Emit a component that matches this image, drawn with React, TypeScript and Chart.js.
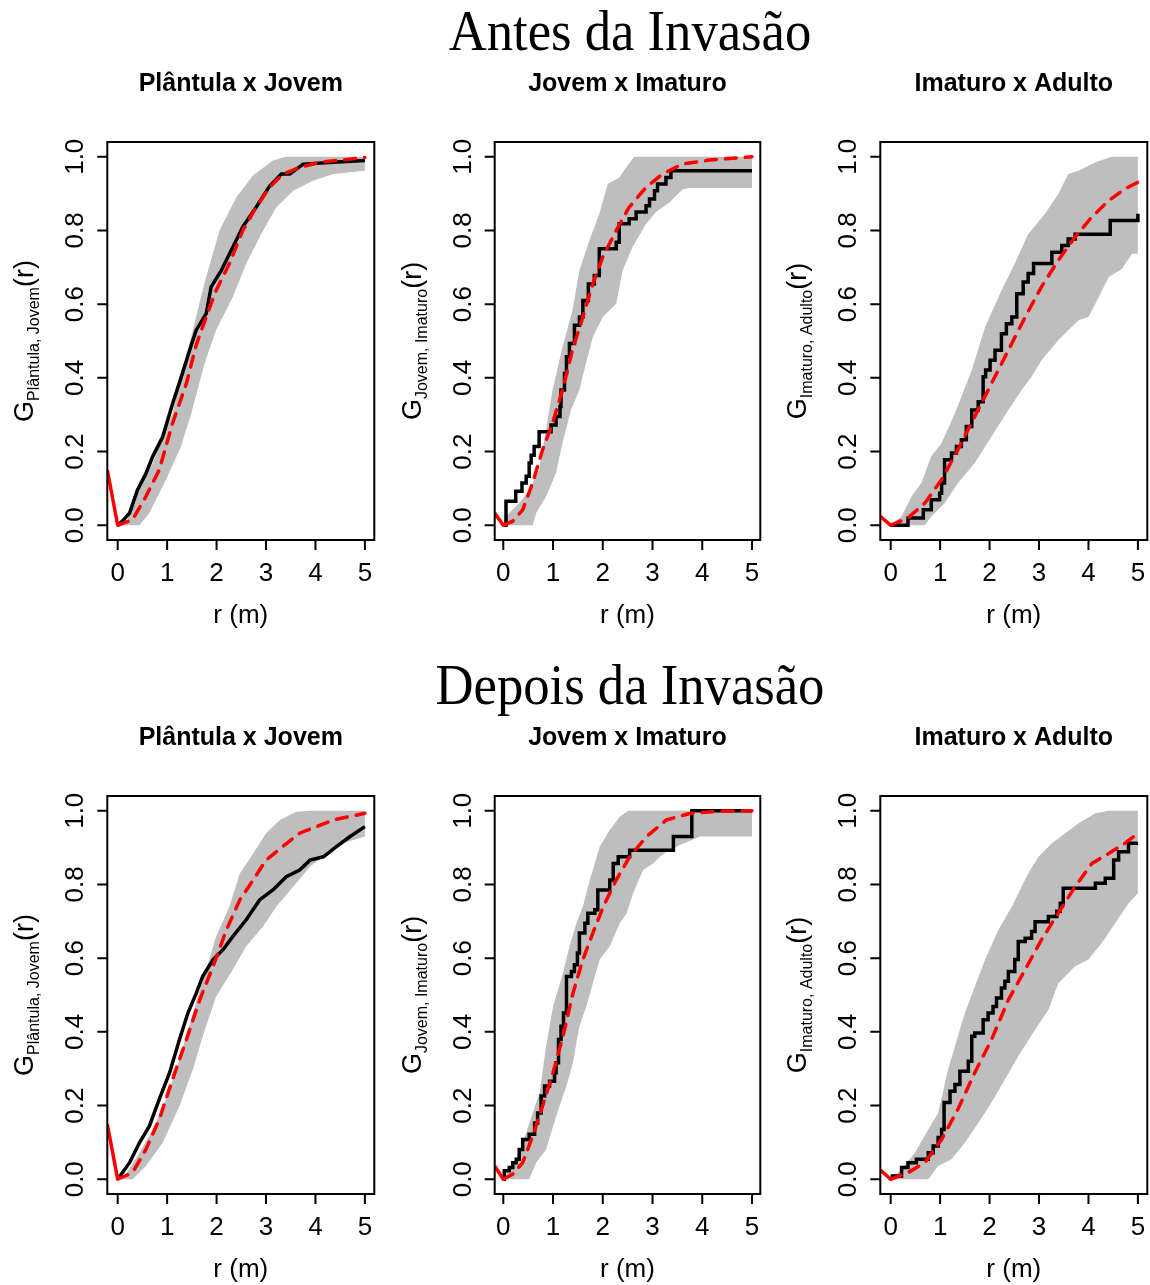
import { useEffect, useRef } from "react";
import { Chart, registerables } from "chart.js";

Chart.register(...registerables);

type P = [number, number][];

// ---------- text ----------
const rowTitles = ["Antes da Invasão", "Depois da Invasão"];
const panelTitles = ["Plântula x Jovem", "Jovem x Imaturo", "Imaturo x Adulto"];
const ySubscripts = ["Plântula, Jovem", "Jovem, Imaturo", "Imaturo, Adulto"];
const xAxisTitle = "r (m)";
const xTicks = [0, 1, 2, 3, 4, 5];
const xTickLabels = ["0", "1", "2", "3", "4", "5"];
const yTicks = [0, 0.2, 0.4, 0.6, 0.8, 1.0];
const yTickLabels = ["0.0", "0.2", "0.4", "0.6", "0.8", "1.0"];

// value of the theoretical curve at the left edge of each panel (solid red lead-in)
const leadValues = [0.15, 0.033, 0.024, 0.149, 0.036, 0.025];
const xRanges: [number, number][] = [[-0.21, 5.19], [-0.173, 5.167], [-0.21, 5.19]];

// ---------- Antes: Plântula x Jovem ----------
const antesPJ_obs: P = [[0,0],[0.1,0.012],[0.24,0.033],[0.4,0.096],[0.57,0.14],[0.71,0.187],[0.91,0.24],[1.11,0.33],[1.28,0.4],[1.49,0.49],[1.59,0.53],[1.79,0.574],[1.89,0.647],[2.09,0.69],[2.33,0.755],[2.53,0.81],[2.8,0.863],[3.07,0.92],[3.31,0.953],[3.48,0.953],[3.75,0.98],[4.36,0.985],[5,0.99]];
const antesPJ_theo: P = [[0,0],[0.3,0.015],[0.57,0.078],[0.84,0.15],[1.11,0.277],[1.39,0.385],[1.59,0.49],[1.79,0.565],[1.99,0.637],[2.26,0.71],[2.53,0.8],[2.8,0.863],[3.07,0.917],[3.34,0.953],[3.68,0.971],[4.09,0.985],[5,0.998]];
const antesPJ_hi: P = [[0,0],[0.2,0.015],[0.37,0.078],[0.71,0.169],[1.11,0.304],[1.28,0.4],[1.52,0.53],[1.76,0.66],[2.06,0.8],[2.4,0.89],[2.74,0.95],[3.14,0.99],[3.4,1.0],[5,1.0]];
const antesPJ_lo: P = [[0,0],[0.44,0],[0.64,0.033],[0.98,0.124],[1.28,0.214],[1.49,0.304],[1.76,0.44],[1.99,0.53],[2.33,0.62],[2.6,0.71],[2.94,0.8],[3.21,0.863],[3.55,0.908],[3.95,0.935],[4.36,0.953],[5,0.962]];

// ---------- Antes: Jovem x Imaturo ----------
const antesJI_obs: P = [[0,0],[0.054,0.065],[0.25,0.092],[0.375,0.115],[0.46,0.133],[0.52,0.169],[0.56,0.19],[0.62,0.214],[0.72,0.254],[0.96,0.272],[1.06,0.295],[1.14,0.322],[1.16,0.367],[1.23,0.412],[1.27,0.457],[1.33,0.493],[1.43,0.543],[1.53,0.565],[1.6,0.61],[1.71,0.655],[1.83,0.678],[1.93,0.75],[2.27,0.768],[2.33,0.818],[2.53,0.832],[2.67,0.85],[2.87,0.867],[2.94,0.885],[3.04,0.908],[3.1,0.926],[3.27,0.944],[3.37,0.962],[5,0.962]];
const antesJI_theo: P = [[0,0],[0.19,0.011],[0.39,0.042],[0.59,0.115],[0.79,0.205],[0.99,0.277],[1.19,0.367],[1.39,0.475],[1.6,0.565],[1.8,0.655],[2.0,0.728],[2.27,0.8],[2.53,0.863],[2.87,0.917],[3.2,0.953],[3.6,0.98],[4.14,0.991],[5,1.0]];
const antesJI_hi: P = [[0,0],[0.05,0.024],[0.32,0.06],[0.52,0.096],[0.72,0.15],[0.86,0.259],[0.99,0.367],[1.19,0.484],[1.39,0.583],[1.53,0.692],[1.73,0.773],[1.93,0.845],[2.1,0.926],[2.33,0.944],[2.47,0.971],[2.63,1.0],[5,1.0]];
const antesJI_lo: P = [[0,0],[0.59,0],[0.66,0.033],[0.86,0.078],[1.06,0.142],[1.19,0.223],[1.36,0.313],[1.53,0.367],[1.66,0.439],[1.8,0.511],[2.0,0.565],[2.27,0.601],[2.4,0.692],[2.6,0.755],[2.87,0.818],[3.07,0.85],[3.34,0.876],[3.47,0.894],[3.61,0.912],[3.74,0.915],[5,0.915]];

// ---------- Antes: Imaturo x Adulto ----------
const antesIA_obs: P = [[0,0],[0.35,0.02],[0.66,0.042],[0.82,0.069],[0.99,0.087],[1.03,0.115],[1.09,0.178],[1.23,0.196],[1.33,0.214],[1.43,0.232],[1.53,0.268],[1.64,0.313],[1.77,0.335],[1.87,0.403],[1.92,0.421],[2.01,0.448],[2.11,0.475],[2.24,0.52],[2.34,0.547],[2.45,0.565],[2.55,0.628],[2.68,0.66],[2.78,0.683],[2.89,0.71],[3.26,0.741],[3.46,0.759],[3.59,0.777],[3.73,0.79],[4.44,0.827],[5,0.845]];
const antesIA_theo: P = [[0,0],[0.35,0.02],[0.69,0.06],[1.03,0.124],[1.36,0.205],[1.7,0.295],[2.04,0.385],[2.38,0.475],[2.72,0.565],[3.05,0.647],[3.39,0.719],[3.73,0.782],[4.07,0.837],[4.41,0.881],[4.74,0.913],[5,0.931]];
const antesIA_hi: P = [[0,0],[0.22,0.024],[0.42,0.078],[0.62,0.115],[0.82,0.187],[1.03,0.223],[1.3,0.304],[1.64,0.421],[1.91,0.538],[2.24,0.637],[2.51,0.71],[2.78,0.79],[3.12,0.845],[3.39,0.899],[3.59,0.953],[3.8,0.962],[4.14,0.985],[4.47,1.0],[5,1.0]];
const antesIA_lo: P = [[0,0],[0.69,0],[0.82,0.024],[1.09,0.06],[1.36,0.115],[1.7,0.169],[2.04,0.241],[2.38,0.313],[2.65,0.367],[2.85,0.403],[3.05,0.448],[3.39,0.502],[3.59,0.529],[3.8,0.556],[4.0,0.565],[4.14,0.601],[4.41,0.674],[4.68,0.696],[4.88,0.737],[5,0.737]];

// ---------- Depois: Plântula x Jovem ----------
const depoisPJ_obs: P = [[0,0],[0.24,0.045],[0.44,0.099],[0.64,0.144],[0.84,0.217],[1.05,0.289],[1.25,0.379],[1.42,0.451],[1.59,0.505],[1.72,0.551],[1.93,0.596],[2.13,0.623],[2.33,0.659],[2.6,0.704],[2.87,0.758],[3.14,0.785],[3.41,0.821],[3.68,0.839],[3.89,0.866],[4.16,0.875],[4.43,0.903],[4.7,0.93],[5,0.957]];
const depoisPJ_theo: P = [[0,0],[0.3,0.018],[0.57,0.081],[0.84,0.162],[1.11,0.271],[1.39,0.379],[1.66,0.487],[1.93,0.578],[2.2,0.677],[2.47,0.758],[2.74,0.812],[3.0,0.866],[3.34,0.903],[3.68,0.939],[4.02,0.957],[4.36,0.975],[5,0.993]];
const depoisPJ_hi: P = [[0,0],[0.17,0.014],[0.44,0.072],[0.71,0.135],[0.98,0.217],[1.25,0.325],[1.52,0.451],[1.79,0.569],[1.99,0.659],[2.26,0.74],[2.47,0.83],[2.74,0.884],[3.0,0.939],[3.28,0.975],[3.61,0.997],[3.9,1.0],[5,1.0]];
const depoisPJ_lo: P = [[0,0],[0.3,0],[0.57,0.036],[0.91,0.099],[1.25,0.199],[1.52,0.298],[1.72,0.388],[1.99,0.496],[2.33,0.569],[2.6,0.632],[2.94,0.686],[3.21,0.74],[3.55,0.794],[3.89,0.848],[4.22,0.884],[4.56,0.912],[5,0.93]];

// ---------- Depois: Jovem x Imaturo ----------
const depoisJI_obs: P = [[0,0],[0.02,0.023],[0.12,0.032],[0.19,0.045],[0.26,0.054],[0.32,0.081],[0.39,0.108],[0.52,0.122],[0.63,0.153],[0.69,0.18],[0.76,0.226],[0.83,0.253],[0.93,0.266],[1.03,0.289],[1.06,0.316],[1.11,0.379],[1.16,0.415],[1.21,0.451],[1.27,0.55],[1.37,0.564],[1.43,0.582],[1.49,0.614],[1.53,0.668],[1.64,0.695],[1.7,0.722],[1.84,0.731],[1.9,0.785],[2.14,0.812],[2.21,0.857],[2.31,0.875],[2.54,0.893],[3.42,0.93],[3.79,1.0],[5,1.0]];
const depoisJI_theo: P = [[0,0],[0.19,0.014],[0.39,0.045],[0.59,0.117],[0.79,0.199],[1.0,0.289],[1.2,0.388],[1.4,0.505],[1.6,0.596],[1.8,0.668],[2.01,0.74],[2.27,0.812],[2.54,0.875],[2.88,0.93],[3.28,0.975],[3.76,0.993],[4.43,0.999],[5,1.0]];
const depoisJI_hi: P = [[0,0],[0.12,0.027],[0.26,0.054],[0.46,0.126],[0.59,0.18],[0.73,0.235],[0.86,0.361],[1.0,0.469],[1.2,0.56],[1.33,0.632],[1.47,0.695],[1.6,0.74],[1.74,0.812],[1.94,0.903],[2.14,0.948],[2.34,0.984],[2.51,1.0],[5,1.0]];
const depoisJI_lo: P = [[0,0],[0.52,0],[0.66,0.045],[0.86,0.081],[1.0,0.144],[1.13,0.199],[1.27,0.253],[1.4,0.316],[1.53,0.415],[1.67,0.469],[1.8,0.532],[1.94,0.596],[2.14,0.632],[2.34,0.695],[2.48,0.722],[2.61,0.776],[2.81,0.839],[3.01,0.857],[3.15,0.875],[3.28,0.889],[3.55,0.907],[3.96,0.93],[5,0.93]];

// ---------- Depois: Imaturo x Adulto ----------
const depoisIA_obs: P = [[0,0.009],[0.22,0.032],[0.35,0.045],[0.52,0.054],[0.76,0.072],[0.86,0.09],[0.96,0.113],[1.03,0.135],[1.08,0.208],[1.2,0.239],[1.3,0.257],[1.4,0.293],[1.57,0.32],[1.64,0.388],[1.7,0.397],[1.87,0.433],[1.97,0.451],[2.07,0.469],[2.14,0.492],[2.24,0.519],[2.31,0.537],[2.38,0.564],[2.51,0.596],[2.58,0.645],[2.72,0.654],[2.85,0.672],[2.92,0.699],[3.19,0.713],[3.36,0.727],[3.43,0.749],[3.49,0.79],[4.14,0.803],[4.34,0.817],[4.51,0.866],[4.61,0.889],[4.81,0.912],[5,0.912]];
const depoisIA_theo: P = [[0,0],[0.35,0.018],[0.69,0.045],[1.03,0.108],[1.36,0.19],[1.7,0.289],[2.04,0.379],[2.38,0.487],[2.72,0.569],[3.05,0.65],[3.39,0.722],[3.73,0.794],[4.07,0.857],[4.41,0.884],[4.74,0.912],[5,0.939]];
const depoisIA_hi: P = [[0,0],[0.22,0.027],[0.49,0.072],[0.76,0.135],[0.96,0.18],[1.16,0.298],[1.5,0.451],[1.91,0.596],[2.18,0.677],[2.45,0.74],[2.78,0.83],[2.99,0.875],[3.26,0.912],[3.53,0.939],[3.8,0.966],[4.14,0.993],[4.41,1.0],[5,1.0]];
const depoisIA_lo: P = [[0,0],[0.76,0],[0.96,0.036],[1.23,0.054],[1.5,0.099],[1.77,0.153],[2.04,0.208],[2.31,0.271],[2.58,0.334],[2.92,0.406],[3.19,0.46],[3.39,0.532],[3.73,0.578],[4.0,0.596],[4.27,0.641],[4.54,0.695],[4.81,0.749],[5,0.776]];

// ---------- layout ----------
const SANS = '"Liberation Sans", Arial, Helvetica, sans-serif';
const SERIF = '"Liberation Serif", "Times New Roman", serif';
const colGeom = [
  { left: 0, width: 388, padL: 107.3, padR: 13.7 },
  { left: 388, width: 386, padL: 106.7, padR: 13.7 },
  { left: 774, width: 376, padL: 106.3, padR: 2.7 },
];
const rowGeom = [
  { top: 56, height: 590, padT: 86, padB: 106 },
  { top: 710, height: 575, padT: 86, padB: 91 },
];

interface Panel {
  row: number; col: number; obs: P; theo: P; hi: P; lo: P; stepped: boolean; lead: number;
}

const panels: Panel[] = [
  { row: 0, col: 0, obs: antesPJ_obs, theo: antesPJ_theo, hi: antesPJ_hi, lo: antesPJ_lo, stepped: false, lead: leadValues[0] },
  { row: 0, col: 1, obs: antesJI_obs, theo: antesJI_theo, hi: antesJI_hi, lo: antesJI_lo, stepped: true, lead: leadValues[1] },
  { row: 0, col: 2, obs: antesIA_obs, theo: antesIA_theo, hi: antesIA_hi, lo: antesIA_lo, stepped: true, lead: leadValues[2] },
  { row: 1, col: 0, obs: depoisPJ_obs, theo: depoisPJ_theo, hi: depoisPJ_hi, lo: depoisPJ_lo, stepped: false, lead: leadValues[3] },
  { row: 1, col: 1, obs: depoisJI_obs, theo: depoisJI_theo, hi: depoisJI_hi, lo: depoisJI_lo, stepped: true, lead: leadValues[4] },
  { row: 1, col: 2, obs: depoisIA_obs, theo: depoisIA_theo, hi: depoisIA_hi, lo: depoisIA_lo, stepped: true, lead: leadValues[5] },
];

const toXY = (a: P) => a.map(([x, y]) => ({ x, y }));

function framePlugin(p: Panel) {
  return {
    id: "frame" + p.row + p.col,
    afterDraw(chart: any) {
      const { ctx, chartArea: a, scales } = chart;
      const xs = scales.x;
      const ys = scales.y;
      ctx.save();
      ctx.strokeStyle = "#000";
      ctx.fillStyle = "#000";
      ctx.lineWidth = 2;
      ctx.strokeRect(a.left, a.top, a.right - a.left, a.bottom - a.top);
      ctx.beginPath();
      for (const v of xTicks) {
        const px = xs.getPixelForValue(v);
        ctx.moveTo(px, a.bottom);
        ctx.lineTo(px, a.bottom + 10);
      }
      for (const v of yTicks) {
        const py = ys.getPixelForValue(v);
        ctx.moveTo(a.left, py);
        ctx.lineTo(a.left - 10, py);
      }
      ctx.stroke();

      ctx.textAlign = "center";
      ctx.textBaseline = "alphabetic";
      ctx.font = `26px ${SANS}`;
      xTicks.forEach((v, i) => ctx.fillText(xTickLabels[i], xs.getPixelForValue(v), a.bottom + 41));
      yTicks.forEach((v, i) => {
        ctx.save();
        ctx.translate(a.left - 24, ys.getPixelForValue(v));
        ctx.rotate(-Math.PI / 2);
        ctx.fillText(yTickLabels[i], 0, 0);
        ctx.restore();
      });

      const cx = (a.left + a.right) / 2;
      const cy = (a.top + a.bottom) / 2;
      ctx.font = `26px ${SANS}`;
      ctx.fillText(xAxisTitle, cx, a.bottom + 83);

      ctx.font = `bold 25px ${SANS}`;
      ctx.fillText(panelTitles[p.col], cx, a.top - 51);

      // y-axis title G_{sub}(r)
      const mainFont = `27px ${SANS}`;
      const subFont = `16px ${SANS}`;
      ctx.font = mainFont;
      const wG = ctx.measureText("G").width;
      const wR = ctx.measureText("(r)").width;
      ctx.font = subFont;
      const wS = ctx.measureText(ySubscripts[p.col]).width;
      const total = wG + wS + wR;
      ctx.save();
      ctx.translate(a.left - 74, cy);
      ctx.rotate(-Math.PI / 2);
      ctx.textAlign = "left";
      let x0 = -total / 2;
      ctx.font = mainFont;
      ctx.fillText("G", x0, 0);
      x0 += wG;
      ctx.font = subFont;
      ctx.fillText(ySubscripts[p.col], x0, 6);
      x0 += wS;
      ctx.font = mainFont;
      ctx.fillText("(r)", x0, 0);
      ctx.restore();

      ctx.restore();
    },
  };
}

function makeConfig(p: Panel): any {
  const cg = colGeom[p.col];
  const rg = rowGeom[p.row];
  const [xmin, xmax] = xRanges[p.col];
  return {
    type: "line",
    data: {
      datasets: [
        {
          label: "lead",
          data: toXY([[xmin, p.lead], [0, 0]]),
          borderColor: "#FF0000",
          borderWidth: 3.5,
          pointRadius: 0,
          fill: false,
        },
        {
          label: "theo",
          data: toXY(p.theo),
          borderColor: "#FF0000",
          borderWidth: 3.5,
          borderDash: [11, 9],
          borderCapStyle: "round",
          pointRadius: 0,
          fill: false,
        },
        {
          label: "obs",
          data: toXY(p.obs),
          borderColor: "#000000",
          borderWidth: 3.5,
          stepped: p.stepped ? "before" : false,
          pointRadius: 0,
          fill: false,
        },
        {
          label: "hi",
          data: toXY(p.hi),
          borderColor: "rgba(0,0,0,0)",
          borderWidth: 1,
          backgroundColor: "#BEBEBE",
          pointRadius: 0,
          fill: "+1",
        },
        {
          label: "lo",
          data: toXY(p.lo),
          borderColor: "rgba(0,0,0,0)",
          borderWidth: 1,
          pointRadius: 0,
          fill: false,
        },
      ],
    },
    options: {
      animation: false,
      responsive: false,
      maintainAspectRatio: false,
      events: [],
      layout: { padding: { left: cg.padL, right: cg.padR, top: rg.padT, bottom: rg.padB } },
      plugins: { legend: { display: false }, tooltip: { enabled: false }, title: { display: false } },
      scales: {
        x: { type: "linear", min: xmin, max: xmax, display: false },
        y: { type: "linear", min: -0.04, max: 1.04, display: false },
      },
    },
    plugins: [framePlugin(p)],
  };
}

export default function App() {
  const refs = useRef<(HTMLCanvasElement | null)[]>([]);
  useEffect(() => {
    const charts = panels.map((p, i) => new Chart(refs.current[i] as HTMLCanvasElement, makeConfig(p)));
    return () => charts.forEach((c) => c.destroy());
  }, []);
  return (
    <div style={{ position: "absolute", left: 0, top: 0, width: 1150, height: 1285, background: "#fff", overflow: "hidden" }}>
      {rowTitles.map((t, i) => (
        <div
          key={t}
          style={{
            position: "absolute",
            left: 630,
            top: i === 0 ? 3 : 657,
            transform: "translateX(-50%) scaleX(0.94)",
            fontFamily: SERIF,
            fontSize: 56,
            lineHeight: "56px",
            whiteSpace: "nowrap",
            color: "#000",
          }}
        >
          {t}
        </div>
      ))}
      {panels.map((p, i) => {
        const cg = colGeom[p.col];
        const rg = rowGeom[p.row];
        return (
          <canvas
            key={i}
            ref={(el) => {
              refs.current[i] = el;
            }}
            width={cg.width}
            height={rg.height}
            style={{ position: "absolute", left: cg.left, top: rg.top, width: cg.width, height: rg.height }}
          />
        );
      })}
    </div>
  );
}
